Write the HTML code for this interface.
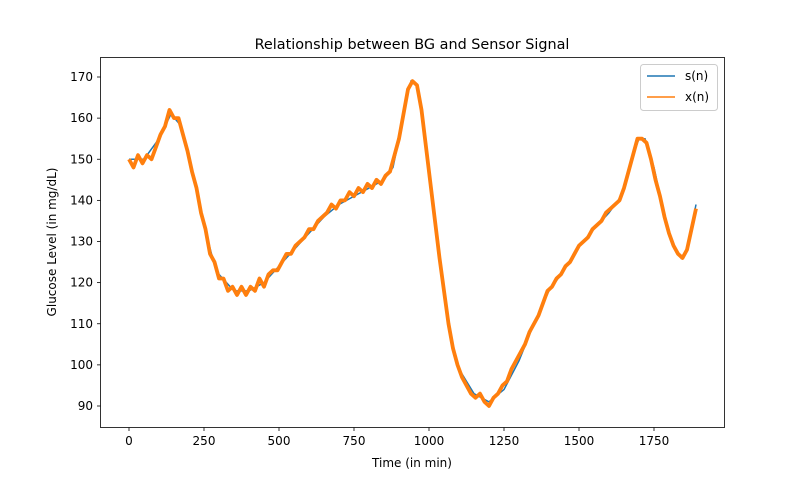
<!DOCTYPE html>
<html><head><meta charset="utf-8"><style>
body{margin:0;background:#fff;font-family:"Liberation Sans","DejaVu Sans",sans-serif}
svg text{font-family:"DejaVu Sans","Liberation Sans",sans-serif;font-size:12px;fill:#000}
</style></head><body>
<svg id="chart" width="805" height="480">
<text x="412" y="49" text-anchor="middle" style="font-size:14.4px">Relationship between BG and Sensor Signal</text>
<g id="plot"></g>
<rect x="100.5" y="57.5" width="624" height="370" fill="none" stroke="#000" stroke-width="0.8"/>
<text x="412" y="467" text-anchor="middle">Time (in min)</text>
<text transform="translate(56,242) rotate(-90)" text-anchor="middle">Glucose Level (in mg/dL)</text>
<g>
<rect x="640.5" y="64.5" width="77" height="46" rx="3" fill="#fff" stroke="#ccc"/>
<line x1="647" y1="76" x2="675" y2="76" stroke="#1f77b4" stroke-width="1.5"/>
<text x="685" y="80">s(n)</text>
<line x1="647" y1="97" x2="675" y2="97" stroke="#ff7f0e" stroke-width="1.5"/>
<text x="685" y="101">x(n)</text>
</g>
</svg>
<script>
const sTimes=[0,50,100,140,175,200,225,250,275,300,350,400,450,500,550,600,650,700,750,800,850,880,900,920,940,960,980,1000,1025,1050,1075,1100,1150,1200,1250,1300,1350,1400,1450,1500,1550,1600,1640,1670,1700,1720,1750,1780,1810,1840,1860,1890];
const sValues=[150,150,155,161,158,151,143,134,127,122,118,118,120,124,128,132,136,139,141,143,145,148,155,163,169,168,160,148,132,117,106,99,93,91,94,101,110,118,123,129,133,137,141,149,155,155,148,138,130,126,128,139];
const xStep=15;
const xValues=[150,148,151,149,151,150,153,156,158,162,160,160,156,152,147,143,137,133,127,125,121,121,118,119,117,119,117,119,118,121,119,122,123,123,125,127,127,129,130,131,133,133,135,136,137,139,138,140,140,142,141,143,142,144,143,145,144,146,147,151,155,161,167,169,168,162,153,144,135,126,118,110,104,100,97,95,93,92,93,91,90,92,93,95,96,99,101,103,105,108,110,112,115,118,119,121,122,124,125,127,129,130,131,133,134,135,137,138,139,140,143,147,151,155,155,154,150,145,141,136,132,129,127,126,128,133,138];
const xTicks=[0,250,500,750,1000,1250,1500,1750];
const yTicks=[90,100,110,120,130,140,150,160,170];
const X=t=>129+t*0.3;
const Y=v=>77+(170-v)*4.1125;
const NS="http://www.w3.org/2000/svg";
const g=document.getElementById('plot');
function el(n,a){const e=document.createElementNS(NS,n);for(const k in a)e.setAttribute(k,a[k]);g.appendChild(e);return e;}
xTicks.forEach(t=>{
 const l=el('line',{x1:X(t),x2:X(t),y1:427.5,y2:431,stroke:'#000','stroke-width':0.8});
 
 
 const tx=el('text',{x:X(t),y:445,'text-anchor':'middle'});tx.textContent=t;
 
 
});
yTicks.forEach(v=>{
 const l=el('line',{x1:97,x2:100.5,y1:Y(v),y2:Y(v),stroke:'#000','stroke-width':0.8});
 
 
 const tx=el('text',{x:93,y:Y(v)+4,'text-anchor':'end'});tx.textContent=v;
 
 
});
const sp=el('polyline',{points:sTimes.map((t,i)=>X(t)+','+Y(sValues[i])).join(' '),fill:'none',stroke:'#1f77b4','stroke-width':1.5});


const xp=el('polyline',{points:xValues.map((v,i)=>X(i*xStep)+','+Y(v)).join(' '),fill:'none',stroke:'#ff7f0e','stroke-width':3.8,'stroke-linejoin':'round'});


</script>
</body></html>
